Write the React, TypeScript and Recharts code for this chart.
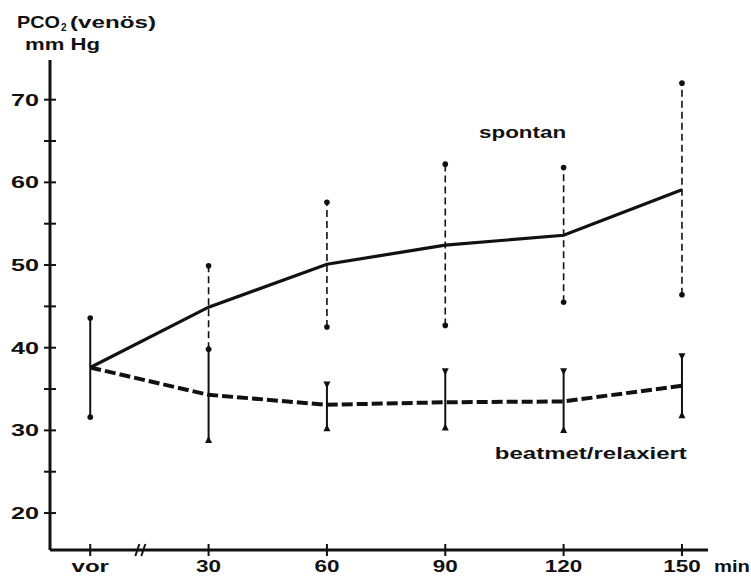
import { ComposedChart, Line, XAxis, YAxis, ErrorBar, Scatter, ReferenceDot } from "recharts"

// time points (min), "vor" = before
const timeValues = [0, 30, 60, 90, 120, 150]
const timeLabels = ["vor", "30", "60", "90", "120", "150"]

// PCO2 venös, mm Hg
const spontanMean = [37.6, 44.9, 50.1, 52.4, 53.6, 59.1]
const spontanHigh = [null, 49.9, 57.6, 62.2, 61.8, 72.0]
const spontanLow = [null, 39.8, 42.5, 42.7, 45.5, 46.4]

const beatmetMean = [37.6, 34.3, 33.1, 33.4, 33.5, 35.4]
const beatmetHigh = [43.6, 39.8, 35.8, 37.4, 37.4, 39.2]
const beatmetLow = [31.6, 28.6, 30.0, 30.1, 29.8, 31.6]

// end markers of the range bars
const beatmetTopMark = ["dot", "diamond", "down", "down", "down", "down"]
const beatmetBottomMark = ["dot", "up", "up", "up", "up", "up"]

const yTicks = [20, 25, 30, 35, 40, 45, 50, 55, 60, 65, 70]

const FONT = "'Liberation Sans', Arial, sans-serif"
const INK = "#111"

const rows = timeValues.map((x, i) => ({
  x,
  spontan: spontanMean[i],
  beatmet: beatmetMean[i],
  spErr:
    spontanHigh[i] == null || spontanLow[i] == null
      ? null
      : [spontanMean[i] - (spontanLow[i] as number), (spontanHigh[i] as number) - spontanMean[i]],
  bmErr: [beatmetMean[i] - beatmetLow[i], beatmetHigh[i] - beatmetMean[i]],
}))

const markers: { x: number; y: number; kind: string }[] = []
timeValues.forEach((x, i) => {
  if (spontanHigh[i] != null) markers.push({ x, y: spontanHigh[i] as number, kind: "dot" })
  if (spontanLow[i] != null) markers.push({ x, y: spontanLow[i] as number, kind: "dot" })
  markers.push({ x, y: beatmetHigh[i], kind: beatmetTopMark[i] })
  markers.push({ x, y: beatmetLow[i], kind: beatmetBottomMark[i] })
})

const Marker = (props: any) => {
  const { cx, cy, payload } = props
  if (cx == null || cy == null) return null
  switch (payload.kind) {
    case "dot":
      return <circle cx={cx} cy={cy} r={2.8} fill={INK} />
    case "diamond":
      return <polygon points={`${cx},${cy - 4} ${cx + 3},${cy} ${cx},${cy + 4} ${cx - 3},${cy}`} fill={INK} />
    case "down":
      return <polygon points={`${cx - 3.5},${cy - 1} ${cx + 3.5},${cy - 1} ${cx},${cy + 6}`} fill={INK} />
    case "up":
      return <polygon points={`${cx - 3.5},${cy + 1} ${cx + 3.5},${cy + 1} ${cx},${cy - 6}`} fill={INK} />
    default:
      return null
  }
}

const YTick = (props: any) => {
  const { x, y, payload } = props
  const v = payload.value
  return (
    <g>
      <line x1={x - 6} x2={x + 6} y1={y} y2={y} stroke={INK} strokeWidth={2} />
      {v % 10 === 0 && (
        <text
          x={x - 11}
          y={y + 6}
          textAnchor="end"
          fontFamily={FONT}
          fontWeight="bold"
          fontSize={17}
          fill={INK}
          textLength={String(v).length * 14}
          lengthAdjust="spacingAndGlyphs"
        >
          {v}
        </text>
      )}
    </g>
  )
}

const XTick = (props: any) => {
  const { x, y, payload } = props
  const i = timeValues.indexOf(payload.value)
  const label = timeLabels[i] ?? String(payload.value)
  return (
    <g>
      <line x1={x} x2={x} y1={y - 6} y2={y + 6} stroke={INK} strokeWidth={2} />
      <text
        x={x}
        y={y + 22}
        textAnchor="middle"
        fontFamily={FONT}
        fontWeight="bold"
        fontSize={17}
        fill={INK}
        textLength={label.length * 12.5}
        lengthAdjust="spacingAndGlyphs"
      >
        {label}
      </text>
      {i === timeValues.length - 1 && (
        <text
          x={x + 32}
          y={y + 22}
          fontFamily={FONT}
          fontWeight="bold"
          fontSize={17}
          fill={INK}
          textLength={36}
          lengthAdjust="spacingAndGlyphs"
        >
          min
        </text>
      )}
    </g>
  )
}

const AxisBreak = (props: any) => {
  const { cx, cy } = props
  if (cx == null || cy == null) return null
  return (
    <g stroke={INK} strokeWidth={2}>
      <line x1={cx - 5} y1={cy + 6} x2={cx - 1} y2={cy - 6} />
      <line x1={cx + 1} y1={cy + 6} x2={cx + 5} y2={cy - 6} />
    </g>
  )
}

const Title = (props: any) => {
  const { viewBox } = props
  const top = viewBox?.y ?? 60
  return (
    <g fontFamily={FONT} fontWeight="bold" fill={INK}>
      <text x={17} y={top - 32} fontSize={17} textLength={43} lengthAdjust="spacingAndGlyphs">
        PCO
      </text>
      <text x={61} y={top - 29} fontSize={10}>
        2
      </text>
      <text x={70} y={top - 32} fontSize={17} textLength={86} lengthAdjust="spacingAndGlyphs">
        (venös)
      </text>
      <text x={25} y={top - 10} fontSize={17} textLength={75} lengthAdjust="spacingAndGlyphs">
        mm Hg
      </text>
    </g>
  )
}

const SeriesLabel = (text: string, width: number) => (props: any) => {
  const { viewBox } = props
  if (!viewBox) return null
  const cx = viewBox.x + (viewBox.width || 0) / 2
  const cy = viewBox.y + (viewBox.height || 0) / 2
  return (
    <text
      x={cx}
      y={cy + 6}
      textAnchor="middle"
      fontFamily={FONT}
      fontWeight="bold"
      fontSize={17}
      fill={INK}
      textLength={width}
      lengthAdjust="spacingAndGlyphs"
    >
      {text}
    </text>
  )
}

export default function App() {
  return (
    <div style={{ position: "absolute", left: 0, top: 0, width: 751, height: 577, background: "#fff" }}>
      <ComposedChart width={751} height={577} data={rows} margin={{ top: 60, right: 43, bottom: 0, left: 0 }}>
        <XAxis
          type="number"
          dataKey="x"
          domain={[-10.2, 156.6]}
          ticks={timeValues}
          allowDataOverflow
          height={27}
          tickSize={0}
          tickMargin={0}
          tickLine={false}
          tick={<XTick />}
          axisLine={{ stroke: INK, strokeWidth: 3 }}
        />
        <YAxis
          type="number"
          domain={[15.53, 74.8]}
          ticks={yTicks}
          allowDataOverflow
          width={50}
          tickSize={0}
          tickMargin={0}
          tickLine={false}
          tick={<YTick />}
          axisLine={{ stroke: INK, strokeWidth: 3 }}
          label={{ content: Title }}
        />
        <Line
          dataKey="spontan"
          stroke={INK}
          strokeWidth={3.2}
          dot={false}
          activeDot={false}
          isAnimationActive={false}
        >
          <ErrorBar dataKey="spErr" width={0} stroke={INK} strokeWidth={1.6} strokeDasharray="7 4" isAnimationActive={false} />
        </Line>
        <Line
          dataKey="beatmet"
          stroke={INK}
          strokeWidth={4}
          strokeDasharray="11 4"
          dot={false}
          activeDot={false}
          isAnimationActive={false}
        >
          <ErrorBar dataKey="bmErr" width={0} stroke={INK} strokeWidth={2} isAnimationActive={false} />
        </Line>
        <Scatter data={markers} dataKey="y" shape={Marker} isAnimationActive={false} />
        <ReferenceDot x={12.7} y={15.53} r={0} shape={AxisBreak} ifOverflow="visible" />
        <ReferenceDot x={109.6} y={66.1} r={0} fill="none" stroke="none" ifOverflow="visible" label={{ content: SeriesLabel("spontan", 87) }} />
        <ReferenceDot x={126.9} y={27.3} r={0} fill="none" stroke="none" ifOverflow="visible" label={{ content: SeriesLabel("beatmet/relaxiert", 192) }} />
      </ComposedChart>
    </div>
  )
}
